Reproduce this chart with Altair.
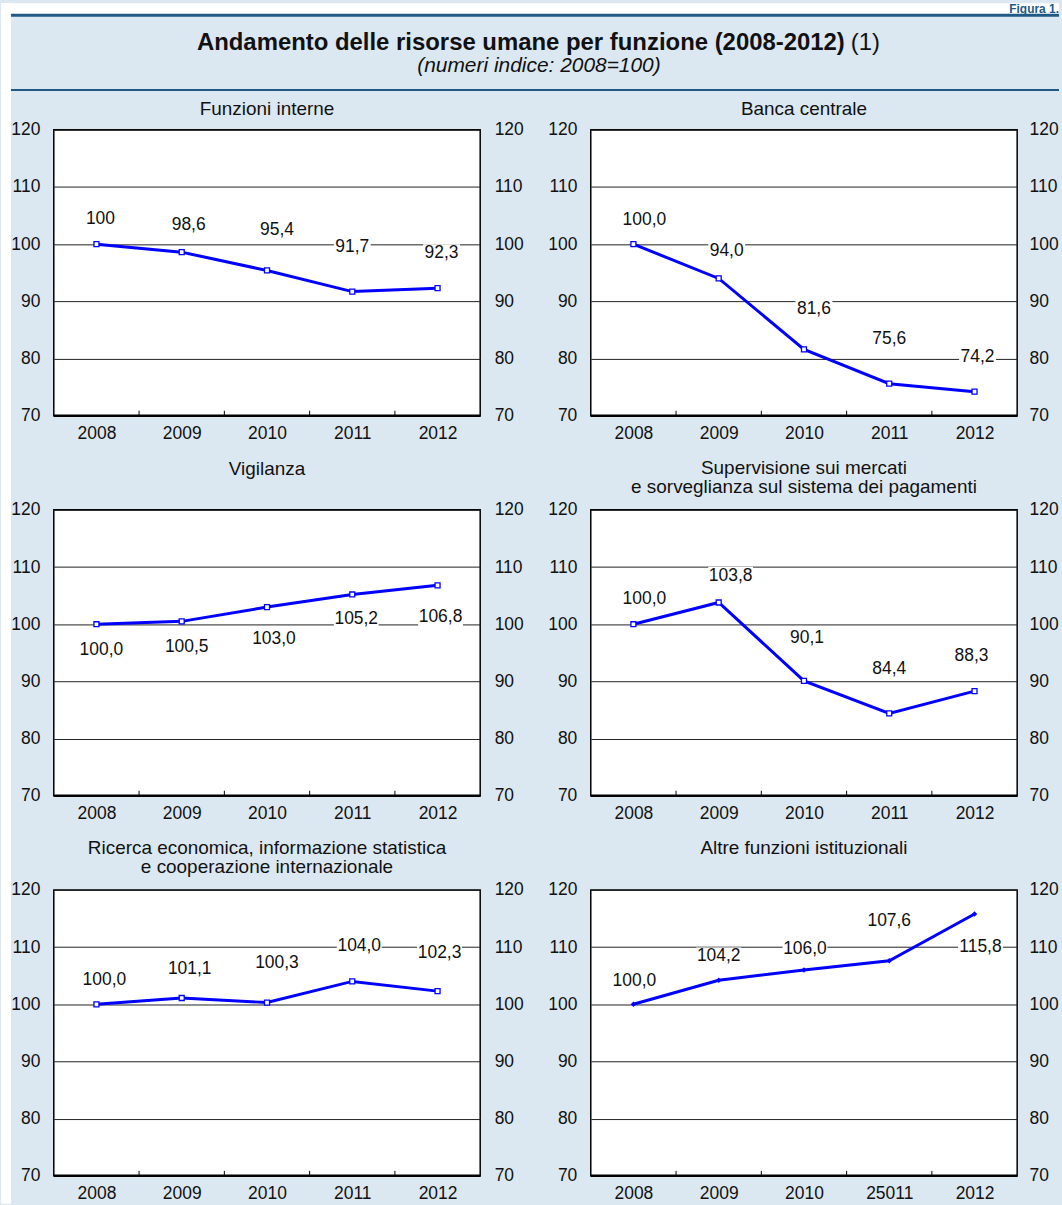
import altair as alt
import pandas as pd

FONT = "Liberation Sans"
BG = "#dce8f1"
HEAD = "#1f5a87"
BLUE = "#0000ff"

# ---------------- data ----------------
YEAR_LABELS = ["2008", "2009", "2010", "2011", "2012"]
YEAR_LABELS_LAST = ["2008", "2009", "2010", "25011", "2012"]

PANEL_TITLES = [
    "Funzioni interne",
    "Banca centrale",
    "Vigilanza",
    "Supervisione sui mercati\ne sorveglianza sul sistema dei pagamenti",
    "Ricerca economica, informazione statistica\ne cooperazione internazionale",
    "Altre funzioni istituzionali",
]

VAL_FUNZIONI = [100.0, 98.6, 95.4, 91.7, 92.3]
VAL_BANCA = [100.0, 94.0, 81.6, 75.6, 74.2]
VAL_VIGILANZA = [100.0, 100.5, 103.0, 105.2, 106.8]
VAL_SUPERVISIONE = [100.0, 103.8, 90.1, 84.4, 88.3]
VAL_RICERCA = [100.0, 101.1, 100.3, 104.0, 102.3]
VAL_ALTRE = [100.0, 104.2, 106.0, 107.6, 115.8]

LAB_FUNZIONI = ["100", "98,6", "95,4", "91,7", "92,3"]
LAB_BANCA = ["100,0", "94,0", "81,6", "75,6", "74,2"]
LAB_VIGILANZA = ["100,0", "100,5", "103,0", "105,2", "106,8"]
LAB_SUPERVISIONE = ["100,0", "103,8", "90,1", "84,4", "88,3"]
LAB_RICERCA = ["100,0", "101,1", "100,3", "104,0", "102,3"]
LAB_ALTRE = ["100,0", "104,2", "106,0", "107,6", "115,8"]

VALUES = [VAL_FUNZIONI, VAL_BANCA, VAL_VIGILANZA, VAL_SUPERVISIONE, VAL_RICERCA, VAL_ALTRE]
LABELS = [LAB_FUNZIONI, LAB_BANCA, LAB_VIGILANZA, LAB_SUPERVISIONE, LAB_RICERCA, LAB_ALTRE]
TICKS = [YEAR_LABELS] * 5 + [YEAR_LABELS_LAST]

# label placement (pixel offsets from the point; negative = above)
LABEL_DX = [
    [4, 7, 10, 0, 4],
    [11, 8, 10, 0, 3],
    [5, 5, 7, 4, 3],
    [11, 12, 3, 0, -3],
    [8, 8, 10, 7, 2],
    [1, 0, 1, 0, 6],
]
LABEL_DY = [
    [-25, -27, -41, -45, -35],
    [-24, -28, -41, -45, -35],
    [26, 26, 32, 25, 32],
    [-25, -27, -43, -45, -35],
    [-24, -29, -40, -36, -38],
    [-23, -24, -21, -40, 33],
]
TITLE_Y = [-14.5, -14.5, -35, -36, -36, -36]

# ---------------- layout ----------------
W, H = 428, 287
COL_GAP, ROW_GAP = 111, 94.5
OX, OY = 53, 127
PAGE_W, PAGE_H = 1062, 1205
NUM_FS = 17.5

xs = alt.Scale(domain=[-0.5, 4.5], nice=False, zero=False)
ys = alt.Scale(domain=[70, 120], nice=False, zero=False)
YVALS = [70, 80, 90, 100, 110, 120]
ONE = pd.DataFrame({"k": [0]})


def box_shape(width, height=18):
    h = height / width
    return f"M-1,-{h:.3f}L1,-{h:.3f}L1,{h:.3f}L-1,{h:.3f}Z"


def decorations():
    layers = []
    layers.append(alt.Chart(ONE).mark_rect(color="white").encode(
        x=alt.value(-OX), x2=alt.value(PAGE_W - OX),
        y=alt.value(-OY), y2=alt.value(11 - OY)))
    layers.append(alt.Chart(ONE).mark_rect(color="white").encode(
        x=alt.value(-OX), x2=alt.value(10 - OX),
        y=alt.value(-OY), y2=alt.value(PAGE_H - OY)))
    layers.append(alt.Chart(ONE).mark_rule(color=HEAD, strokeWidth=3).encode(
        x=alt.value(10 - OX), x2=alt.value(PAGE_W - OX), y=alt.value(12 - OY)))
    layers.append(alt.Chart(ONE).mark_rule(color=HEAD, strokeWidth=2).encode(
        x=alt.value(10 - OX), x2=alt.value(PAGE_W - OX), y=alt.value(87 - OY)))
    layers.append(alt.Chart(ONE).mark_text(
        font=FONT, fontSize=24, fontWeight="bold", align="right",
        baseline="alphabetic", color="#111").encode(
        x=alt.value(847 - OX), y=alt.value(46.5 - OY),
        text=alt.value("Andamento delle risorse umane per funzione (2008-2012)")))
    layers.append(alt.Chart(ONE).mark_text(
        font=FONT, fontSize=24, align="left", baseline="alphabetic", color="#111").encode(
        x=alt.value(853 - OX), y=alt.value(46.5 - OY), text=alt.value("(1)")))
    layers.append(alt.Chart(ONE).mark_text(
        font=FONT, fontSize=21, fontStyle="italic", align="center",
        baseline="alphabetic", color="#111").encode(
        x=alt.value(540 - OX), y=alt.value(69 - OY),
        text=alt.value("(numeri indice: 2008=100)")))
    layers.append(alt.Chart(ONE).mark_text(
        font=FONT, fontSize=12, fontWeight="bold", align="right",
        baseline="alphabetic", color=HEAD).encode(
        x=alt.value(PAGE_W - OX), y=alt.value(10 - OY), text=alt.value("Figura 1.")))
    return layers


def panel(i):
    right_col = (i % 2 == 1)
    df = pd.DataFrame({
        "idx": list(range(5)),
        "value": VALUES[i],
        "label": LABELS[i],
        "dx": LABEL_DX[i],
        "dy": LABEL_DY[i],
    })
    base = alt.Chart(df).transform_calculate(
        lx=f"datum.idx + datum.dx / {W / 5}",
        ly=f"datum.value - datum.dy / {H / 50}",
    )
    label_expr = "[" + ",".join(f"'{t}'" for t in TICKS[i]) + "][datum.value]"
    xaxis = alt.Axis(values=[0, 1, 2, 3, 4], labelExpr=label_expr, ticks=False,
                     domain=False, grid=False, labelPadding=9, labelFontSize=NUM_FS,
                     labelFont=FONT, labelColor="#111", labelFlush=False,
                     labelOverlap=False, title=None, orient="bottom")
    yleft = alt.Axis(orient="left", values=YVALS, grid=True, gridColor="#222",
                     gridWidth=1, ticks=False, domain=False, labelPadding=14,
                     labelFontSize=NUM_FS, labelFont=FONT, labelColor="#111",
                     title=None, zindex=0, format="d")
    yright = alt.Axis(orient="right", values=YVALS, grid=False, ticks=False,
                      domain=False, labelPadding=12 if right_col else 14,
                      labelFontSize=NUM_FS, labelFont=FONT, labelColor="#111",
                      title=None, format="d")

    layers = []
    if i == 0:
        layers += decorations()

    # white boxes behind the value labels
    for n, bw in [(3, 32), (4, 37), (5, 45)]:
        layers.append(base.transform_filter(f"length(datum.label) == {n}").mark_point(
            shape=box_shape(bw), size=bw * bw, filled=True, fill="white",
            strokeWidth=0, opacity=1).encode(
            x=alt.X("lx:Q", scale=xs),
            y=alt.Y("ly:Q", scale=ys, axis=None)))

    layers.append(base.mark_line(color=BLUE, strokeWidth=3).encode(
        x=alt.X("idx:Q", scale=xs, axis=xaxis),
        y=alt.Y("value:Q", scale=ys, axis=yleft)))

    # inner ticks between years
    layers.append(base.transform_filter("datum.idx < 4").transform_calculate(
        tx="datum.idx + 0.5").mark_rule(color="#000", strokeWidth=1).encode(
        x=alt.X("tx:Q", scale=xs),
        y=alt.value(H), y2=alt.value(H - 5)))
    # heavier bottom frame
    layers.append(alt.Chart(ONE).mark_rule(color="#000", strokeWidth=2.5).encode(
        x=alt.value(0), x2=alt.value(W), y=alt.value(H)))

    if i == 5:
        pts = base.mark_point(shape="diamond", size=30, filled=True, color=BLUE, opacity=1)
    else:
        pts = base.mark_point(shape="square", size=25, filled=True, fill="white",
                              stroke=BLUE, strokeWidth=1.3, opacity=1)
    layers.append(pts.encode(
        x=alt.X("idx:Q", scale=xs),
        y=alt.Y("value:Q", scale=ys, axis=yright)))

    layers.append(base.mark_text(font=FONT, fontSize=NUM_FS, color="#111",
                                 baseline="middle", align="center").encode(
        x=alt.X("lx:Q", scale=xs),
        y=alt.Y("ly:Q", scale=ys, axis=None),
        text="label:N"))

    layers.append(alt.Chart(ONE).mark_text(
        font=FONT, fontSize=19, color="#111", align="center",
        baseline="alphabetic", lineBreak="\n", lineHeight=19.5).encode(
        x=alt.value(W / 2), y=alt.value(TITLE_Y[i]),
        text=alt.value(PANEL_TITLES[i])))

    return alt.layer(*layers).resolve_axis(y="independent").properties(width=W, height=H)


chart = alt.concat(
    *[panel(i) for i in range(6)],
    columns=2, bounds="flush",
    spacing={"row": ROW_GAP, "column": COL_GAP},
    padding=0,
).configure(background=BG, font=FONT).configure_view(
    stroke="#000", strokeWidth=1.5, fill="white")

chart.save("out.html", embed_options={"renderer": "svg", "actions": False})
